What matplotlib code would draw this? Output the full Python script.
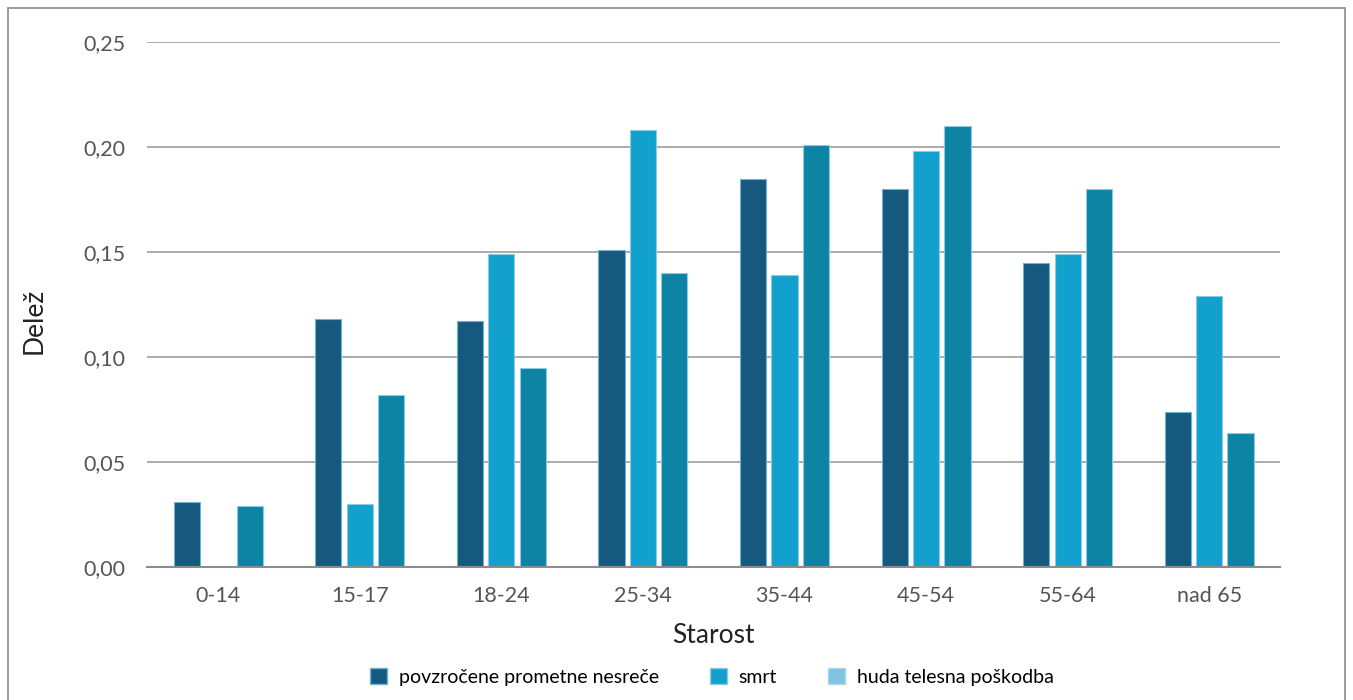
import numpy as np
import matplotlib.pyplot as plt
from matplotlib.patches import Patch, Rectangle

# age groups and shares per outcome
starost = ['0-14', '15-17', '18-24', '25-34', '35-44', '45-54', '55-64', 'nad 65']
povzrocene = [0.031, 0.118, 0.117, 0.151, 0.185, 0.180, 0.145, 0.074]
smrt = [0.0, 0.030, 0.149, 0.208, 0.139, 0.198, 0.149, 0.129]
huda = [0.029, 0.082, 0.095, 0.140, 0.201, 0.210, 0.180, 0.064]
legend_labels = ['povzročene prometne nesreče', 'smrt', 'huda telesna poškodba']

plt.rcParams['font.family'] = ['Lato', 'DejaVu Sans']

fig = plt.figure(figsize=(13.53, 7.0), dpi=100)
ax = fig.add_axes([0.109, 0.19, 0.837, 0.75])

x = np.arange(len(starost))
w = 0.185
step = 0.222
ax.bar(x - step, povzrocene, w, color='#155a7e', edgecolor='#6fb3cf', linewidth=0.8, zorder=3)
ax.bar(x, smrt, w, color='#12a0cc', edgecolor='#8ccbe3', linewidth=0.8, zorder=3)
ax.bar(x + step, huda, w, color='#0e84a5', edgecolor='#8ccbe3', linewidth=0.8, zorder=3)

ax.set_ylim(0, 0.25)
ax.set_xlim(-0.5, len(starost) - 0.5)
ax.set_yticks(np.arange(0, 0.2501, 0.05))
ax.set_yticklabels([f'{v:.2f}'.replace('.', ',') for v in np.arange(0, 0.2501, 0.05)])
ax.set_xticks(x)
ax.set_xticklabels(starost)
ax.yaxis.grid(True, color='#ababab', linewidth=1.4, zorder=0)
ax.tick_params(axis='both', length=0, labelsize=15.5, labelcolor='#555555')
ax.tick_params(axis='y', pad=16)
ax.tick_params(axis='x', pad=14)
for s in ['top', 'right', 'left']:
    ax.spines[s].set_visible(False)
ax.spines['bottom'].set_color('#8c8c8c')
ax.spines['bottom'].set_linewidth(1.5)
ax.spines['bottom'].set_zorder(4)

ax.set_xlabel('Starost', fontsize=19, color='#222222', labelpad=12)
ax.set_ylabel('Delež', fontsize=19, color='#222222')
ax.yaxis.set_label_coords(-0.089, 0.469)

handles = [Patch(facecolor='#155a7e', edgecolor='#6fb3cf'),
           Patch(facecolor='#12a0cc', edgecolor='#8ccbe3'),
           Patch(facecolor='#7fc4e0', edgecolor='#a9d8ea')]
fig.legend(handles, legend_labels, loc='center', bbox_to_anchor=(0.526, 0.033),
           ncol=3, frameon=False, fontsize=14, handlelength=0.9, handleheight=0.9,
           columnspacing=2.6, handletextpad=0.6)

# thin frame around the whole figure
fig.patches.append(Rectangle((8 / 1353, -0.01), 1337 / 1353, 1 - 8 / 700 + 0.01,
                             transform=fig.transFigure, fill=False,
                             edgecolor='#8c8c8c', linewidth=1.2))

fig.savefig('out.png', dpi=100)
